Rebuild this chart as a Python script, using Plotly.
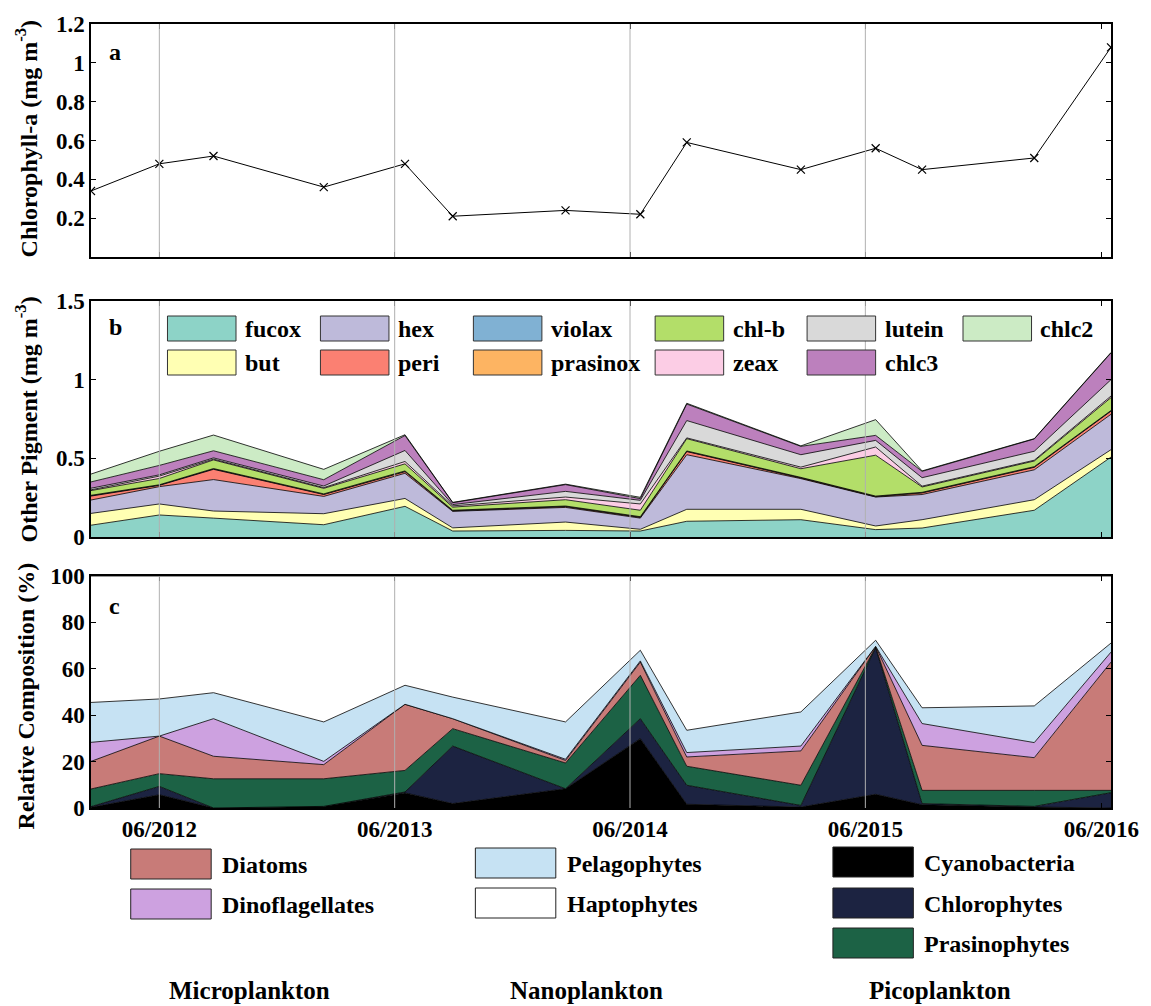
import plotly.graph_objects as go

# ---------------- data ----------------
dates = ['2012-02-16', '2012-06-01', '2012-08-24', '2013-02-11', '2013-06-17',
         '2013-08-30', '2014-02-21', '2014-06-17', '2014-08-28', '2015-02-21',
         '2015-06-17', '2015-08-28', '2016-02-18', '2016-06-16']
chla = [0.34, 0.48, 0.52, 0.36, 0.48, 0.21, 0.24, 0.22, 0.59, 0.45, 0.56, 0.45, 0.51, 1.08]

fucox = [0.075, 0.14, 0.12, 0.078, 0.195, 0.038, 0.042, 0.038, 0.10, 0.11, 0.047, 0.057, 0.17, 0.508]
but = [0.075, 0.07, 0.045, 0.07, 0.05, 0.02, 0.053, 0.011, 0.076, 0.066, 0.023, 0.053, 0.067, 0.047]
hexa = [0.085, 0.11, 0.20, 0.11, 0.16, 0.105, 0.093, 0.071, 0.347, 0.195, 0.184, 0.16, 0.19, 0.225]
peri = [0.025, 0.008, 0.065, 0.012, 0.01, 0.003, 0.005, 0.005, 0.02, 0.004, 0.002, 0.01, 0.016, 0.02]
violax = [0.003, 0.002, 0.003, 0.002, 0.003, 0.002, 0.002, 0.002, 0.002, 0.002, 0.002, 0.002, 0.002, 0.002]
prasinox = [0.002, 0.002, 0.002, 0.002, 0.002, 0.002, 0.002, 0.002, 0.002, 0.002, 0.002, 0.002, 0.002, 0.002]
chlb = [0.03, 0.04, 0.055, 0.035, 0.045, 0.02, 0.04, 0.041, 0.078, 0.055, 0.26, 0.034, 0.036, 0.082]
zeax = [0.005, 0.015, 0.005, 0.005, 0.015, 0.008, 0.017, 0.04, 0.005, 0.01, 0.052, 0.005, 0.005, 0.01]
lutein = [0.01, 0.008, 0.008, 0.01, 0.07, 0.008, 0.036, 0.023, 0.11, 0.079, 0.042, 0.054, 0.057, 0.104]
chlc3 = [0.04, 0.06, 0.045, 0.04, 0.095, 0.012, 0.043, 0.011, 0.105, 0.053, 0.032, 0.04, 0.078, 0.17]
chlc2 = [0.05, 0.09, 0.10, 0.066, 0.005, 0.002, 0.003, 0.008, 0.005, 0.003, 0.10, 0.003, 0.002, 0.003]

cyano = [0.3, 5.7, 0.0, 0.7, 6.5, 1.9, 8.3, 29.9, 1.6, 0.4, 5.9, 1.4, 0.4, 0.0]
chloro = [0.3, 3.6, 0.0, 0.0, 0.4, 24.8, 0.0, 8.6, 8.2, 0.7, 63.2, 0.5, 0.3, 6.6]
prasino = [7.6, 5.5, 12.6, 11.9, 9.3, 7.5, 11.1, 18.7, 8.2, 8.7, 0.3, 5.7, 6.9, 1.0]
diatoms = [11.9, 16.2, 9.7, 6.1, 28.5, 4.3, 1.1, 5.7, 4.0, 14.8, 0.3, 19.4, 14.1, 55.3]
dino = [8.2, 0.0, 16.2, 1.4, 0.0, 0.0, 0.5, 0.5, 1.9, 2.1, 0.0, 9.4, 6.5, 4.3]
pelago = [17.2, 16.0, 11.2, 17.0, 8.2, 9.3, 16.1, 4.6, 9.6, 14.7, 2.6, 6.8, 15.8, 3.9]
hapto = [54.5, 53.0, 50.3, 62.9, 47.1, 52.2, 62.9, 32.0, 66.5, 58.6, 27.7, 56.8, 56.0, 28.9]

tick_dates = ['2012-06-01', '2013-06-01', '2014-06-01', '2015-06-01', '2016-06-01']
tick_text = ['06/2012', '06/2013', '06/2014', '06/2015', '06/2016']
grid_dates = tick_dates[:4]

pig_names = ['fucox', 'but', 'hex', 'peri', 'violax', 'prasinox', 'chl-b', 'zeax', 'lutein', 'chlc3', 'chlc2']
pig_vals = [fucox, but, hexa, peri, violax, prasinox, chlb, zeax, lutein, chlc3, chlc2]
pig_colors = ['#8dd3c7', '#ffffb3', '#bebada', '#fb8072', '#80b1d3', '#fdb462',
              '#b3de69', '#fccde5', '#d9d9d9', '#bc80bd', '#ccebc5']

grp_names = ['Cyanobacteria', 'Chlorophytes', 'Prasinophytes', 'Diatoms',
             'Dinoflagellates', 'Pelagophytes', 'Haptophytes']
grp_vals = [cyano, chloro, prasino, diatoms, dino, pelago, hapto]
grp_colors = ['#000000', '#1c2341', '#1c6245', '#c87b78', '#cda1e0', '#c6e2f3', '#ffffff']

# ---------------- layout helpers ----------------
W, H = 1151, 1006
L, R, T, B = 91, 1118, 24, 808
FONT = 'Liberation Serif'


def px_x(p):
    return (p - L) / (R - L)


def px_y(p):
    return (B - p) / (B - T)


fig = go.Figure()

# panel a
fig.add_trace(go.Scatter(x=dates, y=chla, mode='lines+markers',
                         line=dict(color='black', width=1),
                         marker=dict(symbol='x-thin', size=8, color='black',
                                     line=dict(width=1.2, color='black')),
                         xaxis='x', yaxis='y', showlegend=False))

# panel b
for name, vals, col in zip(pig_names, pig_vals, pig_colors):
    fig.add_trace(go.Scatter(x=dates, y=vals, mode='lines', stackgroup='pig',
                             line=dict(color='black', width=0.8), fillcolor=col,
                             xaxis='x2', yaxis='y2', name=name, showlegend=False))

# panel c
for name, vals, col in zip(grp_names, grp_vals, grp_colors):
    fig.add_trace(go.Scatter(x=dates, y=vals, mode='lines', stackgroup='grp',
                             line=dict(color='black', width=0.8), fillcolor=col,
                             xaxis='x3', yaxis='y3', name=name, showlegend=False))

tickfont = dict(family=FONT, size=23, color='black', weight='bold')
xrange = [dates[0], dates[-1]]
common_x = dict(type='date', range=xrange, tickvals=tick_dates, ticktext=tick_text,
                showgrid=False, zeroline=False, showline=True, linecolor='black',
                linewidth=1.5, mirror='allticks', ticks='inside', ticklen=5,
                tickcolor='black', tickfont=tickfont, domain=[0, 1])
common_y = dict(showgrid=False, zeroline=False, showline=True, linecolor='black',
                linewidth=1.5, mirror='allticks', ticks='inside', ticklen=5,
                tickcolor='black', tickfont=tickfont)

dom_a = [px_y(257), 1.0]
dom_b = [px_y(537), px_y(301)]
dom_c = [0.0, px_y(576)]

fig.update_layout(
    width=W, height=H,
    margin=dict(l=L, r=W - R, t=T, b=H - B, pad=0),
    paper_bgcolor='white', plot_bgcolor='white',
    font=dict(family=FONT, color='black', weight='bold'),
    showlegend=False,
    xaxis=dict(common_x, anchor='y', showticklabels=False),
    xaxis2=dict(common_x, anchor='y2', showticklabels=False, matches='x'),
    xaxis3=dict(common_x, anchor='y3', showticklabels=True, matches='x'),
    yaxis=dict(common_y, domain=dom_a, range=[0, 1.2],
               tickvals=[0.2, 0.4, 0.6, 0.8, 1.0, 1.2],
               ticktext=['0.2', '0.4', '0.6', '0.8', '1', '1.2']),
    yaxis2=dict(common_y, domain=dom_b, range=[0, 1.5],
                tickvals=[0, 0.5, 1.0, 1.5], ticktext=['0', '0.5', '1', '1.5']),
    yaxis3=dict(common_y, domain=dom_c, range=[0, 100],
                tickvals=[0, 20, 40, 60, 80, 100],
                ticktext=['0', '20', '40', '60', '80', '100']),
)

shapes = []
annotations = []

# vertical grid lines (drawn over the fills, like the reference)
for ax in ['x', 'x2', 'x3']:
    yref = {'x': 'y', 'x2': 'y2', 'x3': 'y3'}[ax] + ' domain'
    for d in grid_dates:
        shapes.append(dict(type='line', xref=ax, yref=yref, x0=d, x1=d, y0=0, y1=1,
                           line=dict(color='#b0b0b0', width=1), layer='above'))

# panel letters
for letter, ypx in [('a', 52), ('b', 327), ('c', 606)]:
    annotations.append(dict(text=letter, xref='paper', yref='paper', x=px_x(107), y=px_y(ypx),
                            xanchor='left', yanchor='middle', showarrow=False,
                            font=dict(family=FONT, size=24, color='black', weight='bold')))

# y-axis titles
for title, ypx in [('Chlorophyll-a (mg m<sup>-3</sup>)', 138),
                   ('Other Pigment (mg m<sup>-3</sup>)', 419),
                   ('Relative Composition (%)', 696)]:
    annotations.append(dict(text=title, xref='paper', yref='paper', x=px_x(26), y=px_y(ypx),
                            xanchor='center', yanchor='middle', textangle=-90, showarrow=False,
                            font=dict(family=FONT, size=24, color='black', weight='bold')))

# panel b legend (inside plot)
pig_cols_x = [168, 322, 476, 659, 812, 969]
pig_rows_y = [316, 350]
for i, (name, col) in enumerate(zip(pig_names, pig_colors)):
    cx = pig_cols_x[i // 2]
    ry = pig_rows_y[i % 2]
    shapes.append(dict(type='rect', xref='paper', yref='paper',
                       x0=px_x(cx), x1=px_x(cx + 69), y0=px_y(ry + 25), y1=px_y(ry),
                       fillcolor=col, line=dict(color='#333333', width=1), layer='above'))
    annotations.append(dict(text=name, xref='paper', yref='paper',
                            x=px_x(cx + 76), y=px_y(ry + 13), xanchor='left', yanchor='middle',
                            showarrow=False,
                            font=dict(family=FONT, size=24, color='black', weight='bold')))

# bottom legend
bottom_entries = [
    ('Diatoms', 3, 131, 849), ('Dinoflagellates', 4, 131, 889),
    ('Pelagophytes', 5, 478, 848), ('Haptophytes', 6, 478, 888),
    ('Cyanobacteria', 0, 838, 847), ('Chlorophytes', 1, 838, 888), ('Prasinophytes', 2, 838, 928),
]
for name, gi, sx, sy in bottom_entries:
    shapes.append(dict(type='rect', xref='paper', yref='paper',
                       x0=px_x(sx), x1=px_x(sx + 81), y0=px_y(sy + 30), y1=px_y(sy),
                       fillcolor=grp_colors[gi], line=dict(color='#222222', width=1)))
    annotations.append(dict(text=name, xref='paper', yref='paper',
                            x=px_x(sx + 90), y=px_y(sy + 16), xanchor='left', yanchor='middle',
                            showarrow=False,
                            font=dict(family=FONT, size=24, color='black', weight='bold')))

for name, cx in [('Microplankton', 251), ('Nanoplankton', 590), ('Picoplankton', 946)]:
    annotations.append(dict(text=name, xref='paper', yref='paper', x=px_x(cx), y=px_y(990),
                            xanchor='center', yanchor='middle', showarrow=False,
                            font=dict(family=FONT, size=25, color='black', weight='bold')))

fig.update_layout(shapes=shapes, annotations=annotations)
fig.write_html('out.html', config={'displayModeBar': False},
               post_script="document.body.style.margin='0';document.body.style.padding='0';")
